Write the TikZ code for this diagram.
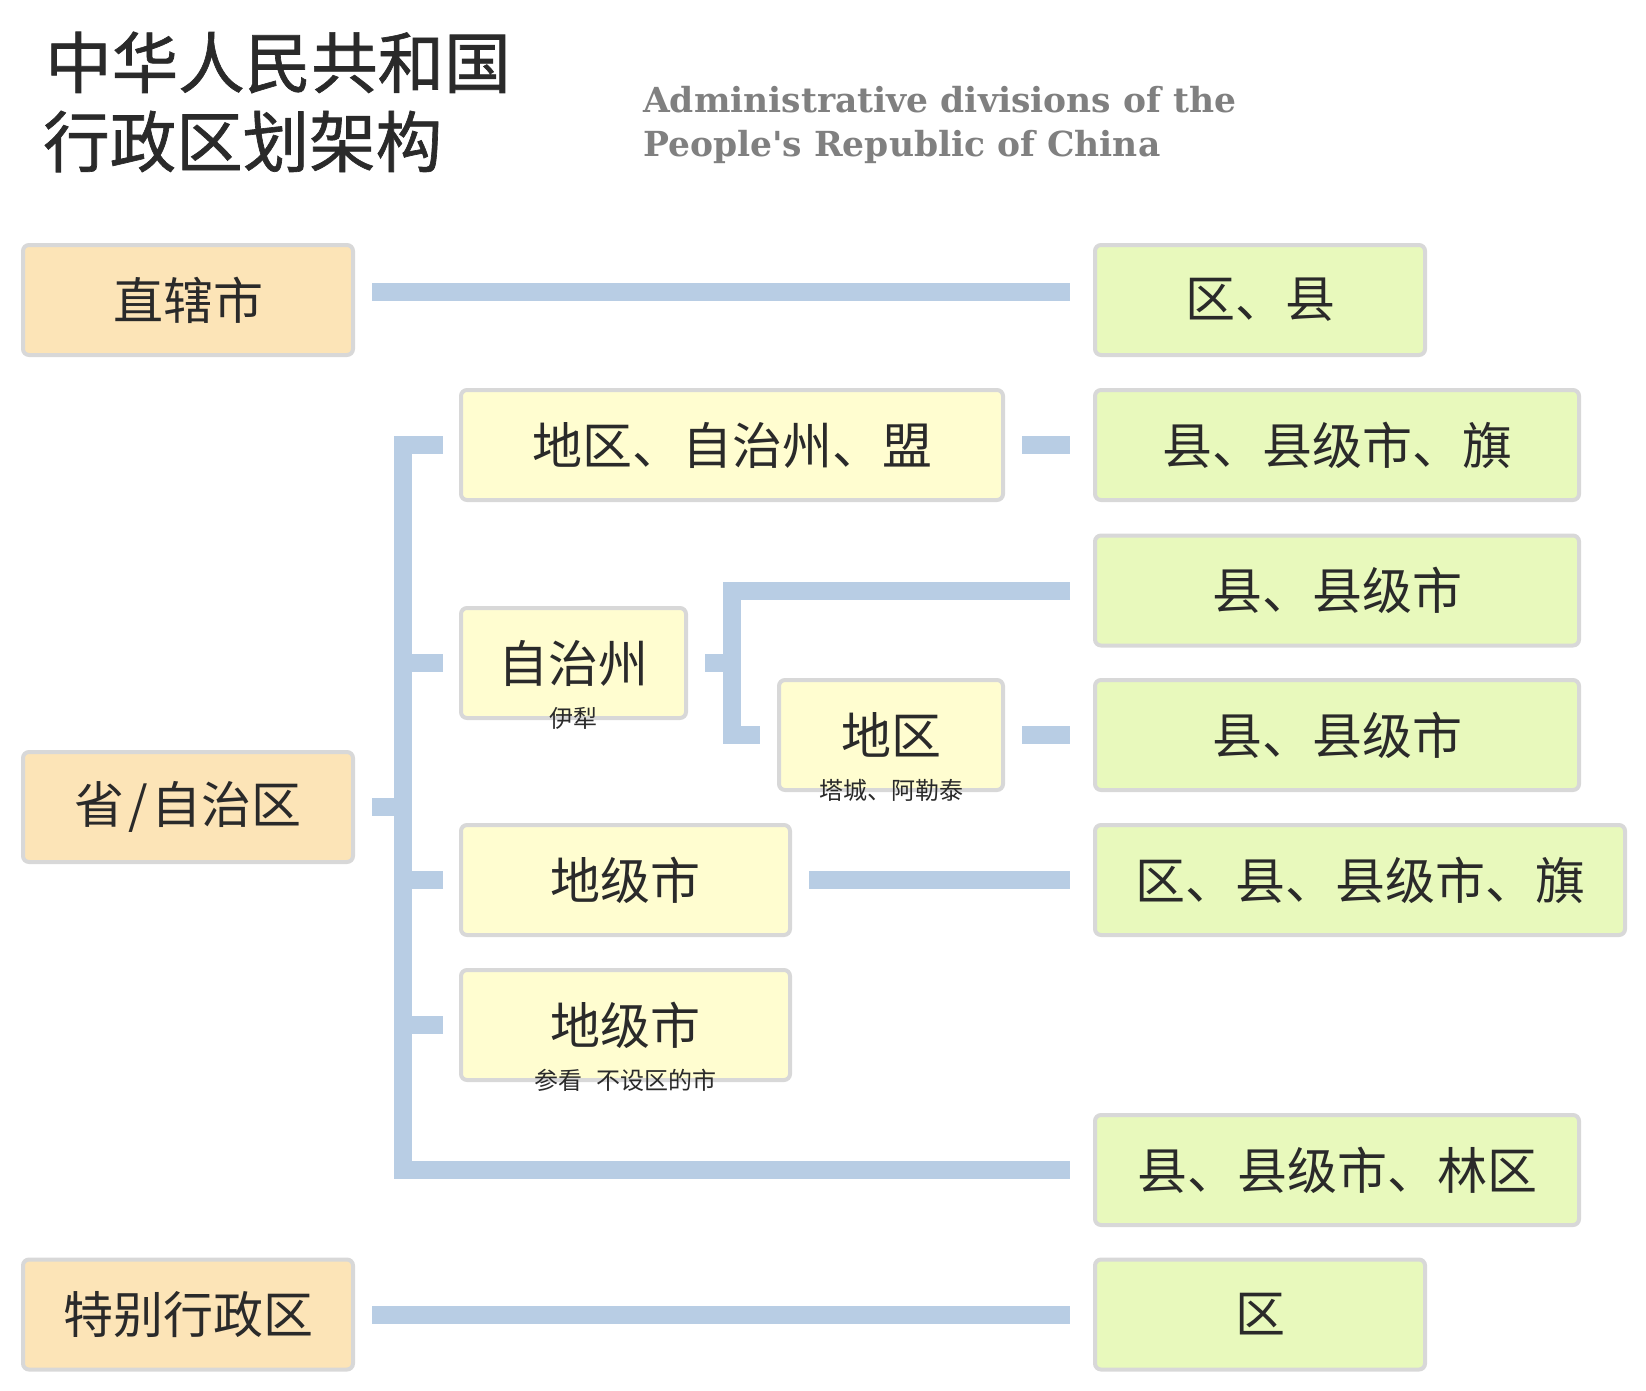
\documentclass[tikz,border=0pt]{standalone}
\usepackage{fontspec}
\setmainfont{Noto Sans CJK SC}
\newfontfamily\titlefont{Noto Sans CJK SC}[FakeBold=1]
\newfontfamily\latinserif{DejaVu Serif}
\definecolor{shengfill}{HTML}{FCE4B7}
\definecolor{dijifill}{HTML}{FFFDD0}
\definecolor{xianfill}{HTML}{E8F9BC}
\definecolor{boxline}{HTML}{D8D8D8}
\definecolor{linkblue}{HTML}{B8CDE4}
\definecolor{inkgray}{HTML}{2A2A2A}

\begin{document}
\begin{tikzpicture}[x=1pt, y=-1pt,
basebox/.style={rectangle, rounded corners=6pt, draw=boxline, line width=4pt, outer sep=0pt, inner sep=0pt, minimum height=110pt, text=inkgray, font=\fontsize{50}{50}\selectfont},
shengnode/.style={basebox, fill=shengfill, minimum width=330pt},
dijinode/.style={basebox, fill=dijifill},
xiannode/.style={basebox, fill=xianfill},
note/.style={inner sep=0pt, text=inkgray, font=\fontsize{24}{24}\selectfont},
link/.style={draw=linkblue, line width=18pt, line cap=butt, line join=miter},
]
\useasboundingbox (0,0) rectangle (1646,1391);
%Title
\node[anchor=west, inner sep=0pt, text=inkgray, font=\titlefont\fontsize{66.5}{66.5}\selectfont] (title1) at (45,62.5) {中华人民共和国};
\node[anchor=west, inner sep=0pt, text=inkgray, font=\titlefont\fontsize{66.5}{66.5}\selectfont] (title2) at (43,141.5) {行政区划架构};
\node[anchor=base west, inner sep=0pt, text=black!50, font=\latinserif\bfseries\fontsize{34.5}{34.5}\selectfont] (entitle1) at (643,113) {Administrative divisions of the};
\node[anchor=base west, inner sep=0pt, text=black!50, font=\latinserif\bfseries\fontsize{34.5}{34.5}\selectfont] (entitle2) at (643,157) {People's Republic of China};
%Nodes
\node[shengnode]                           (zhixiashi)  at (188,300)    {直辖市};
\node[shengnode]                           (sheng)      at (188,807)    {省\kern4pt/\kern4pt自治区};
\node[shengnode]                           (tebie)      at (188,1314.5) {特别行政区};
\node[dijinode, minimum width=542pt]       (diqumeng)   at (732,445)    {地区、自治州、盟};
\node[dijinode, minimum width=225pt]       (zizhizhou)  at (573.5,663)  {自治州};
\node[dijinode, minimum width=224pt]       (diqu)       at (891,735)    {地区};
\node[dijinode, minimum width=329pt]       (dijishi)    at (625.5,880)  {地级市};
\node[dijinode, minimum width=329pt]       (bushequ)    at (625.5,1025) {地级市};
\node[xiannode, minimum width=330pt]       (quxian)     at (1260,300)   {区、县};
\node[xiannode, minimum width=484pt]       (xianqi)     at (1337,445)   {县、县级市、旗};
\node[xiannode, minimum width=484pt]       (xianshi1)   at (1337,590.5) {县、县级市};
\node[xiannode, minimum width=484pt]       (xianshi2)   at (1337,735)   {县、县级市};
\node[xiannode, minimum width=530pt]       (quxianqi)   at (1360,880)   {区、县、县级市、旗};
\node[xiannode, minimum width=484pt]       (linqu)      at (1337,1170)  {县、县级市、林区};
\node[xiannode, minimum width=330pt]       (qu)         at (1260,1314.5) {区};
%Notes
\node[note] (yili)    at (zizhizhou.south) {伊犁};
\node[note] (tacheng) at (diqu.south)      {塔城、阿勒泰};
\node[note] (cankan)  at (bushequ.south)   {参看\hspace{0.55em}不设区的市};
%Lines
\coordinate (spine) at (403,807);
\coordinate (fork)  at (732,663);
\draw[link] ([xshift=19pt,yshift=8pt]zhixiashi.east) -- ([xshift=-25pt,yshift=8pt]quxian.west);
\draw[link] ([xshift=19pt]sheng.east) -- (spine);
\draw[link] ([xshift=-18pt]diqumeng.west) -| (spine) |- ([xshift=-25pt]linqu.west);
\draw[link] ([xshift=-18pt]zizhizhou.west) -- (spine |- zizhizhou.west);
\draw[link] ([xshift=-18pt]dijishi.west) -- (spine |- dijishi.west);
\draw[link] ([xshift=-18pt]bushequ.west) -- (spine |- bushequ.west);
\draw[link] ([xshift=19pt]diqumeng.east) -- ([xshift=-25pt]xianqi.west);
\draw[link] ([xshift=19pt]zizhizhou.east) -- (fork);
\draw[link] ([xshift=-25pt]xianshi1.west) -| (fork) |- ([xshift=-19pt]diqu.west);
\draw[link] ([xshift=19pt]diqu.east) -- ([xshift=-25pt]xianshi2.west);
\draw[link] ([xshift=19pt]dijishi.east) -- ([xshift=-25pt]quxianqi.west);
\draw[link] ([xshift=19pt]tebie.east) -- ([xshift=-25pt]qu.west);
\end{tikzpicture}
\end{document}
